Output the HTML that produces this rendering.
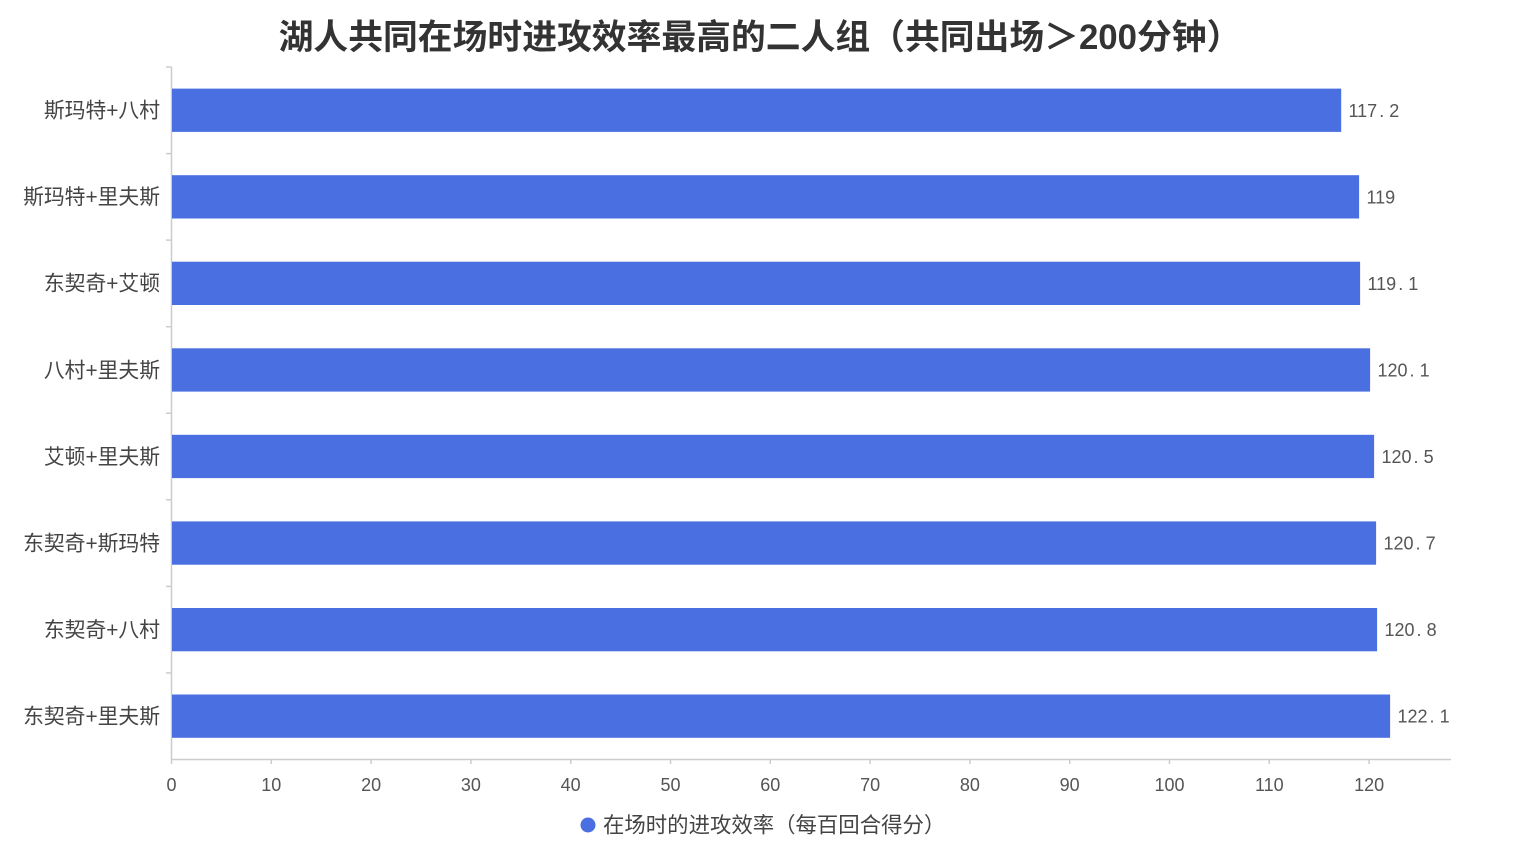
<!DOCTYPE html>
<html>
<head>
<meta charset="utf-8">
<style>
  html, body { margin:0; padding:0; background:#fff; }
  svg { display:block; }
  text { font-family: "Liberation Sans", "Noto Sans CJK SC", sans-serif; }
</style>
</head>
<body>
<svg width="1518" height="855" viewBox="0 0 1518 855" xmlns="http://www.w3.org/2000/svg">
  <rect width="1518" height="855" fill="#fff"/>
  <!-- Title -->
  <text x="760" y="49" text-anchor="middle" font-size="34.8" font-weight="bold" fill="#333">湖人共同在场时进攻效率最高的二人组（共同出场＞200分钟）</text>

  <!-- Axes -->
  <g stroke="#cccccc" stroke-width="1.5" fill="none">
    <line x1="171.5" y1="67" x2="171.5" y2="760"/>
    <line x1="171.5" y1="759.5" x2="1451" y2="759.5"/>
    <!-- y ticks -->
    <line x1="166" y1="67" x2="171.5" y2="67"/>
    <line x1="166" y1="153.6" x2="171.5" y2="153.6"/>
    <line x1="166" y1="240.1" x2="171.5" y2="240.1"/>
    <line x1="166" y1="326.7" x2="171.5" y2="326.7"/>
    <line x1="166" y1="413.2" x2="171.5" y2="413.2"/>
    <line x1="166" y1="499.8" x2="171.5" y2="499.8"/>
    <line x1="166" y1="586.4" x2="171.5" y2="586.4"/>
    <line x1="166" y1="672.9" x2="171.5" y2="672.9"/>
    <!-- x ticks -->
    <line x1="171.5" y1="759.5" x2="171.5" y2="764"/>
    <line x1="271.3" y1="759.5" x2="271.3" y2="764"/>
    <line x1="371.1" y1="759.5" x2="371.1" y2="764"/>
    <line x1="470.9" y1="759.5" x2="470.9" y2="764"/>
    <line x1="570.7" y1="759.5" x2="570.7" y2="764"/>
    <line x1="670.5" y1="759.5" x2="670.5" y2="764"/>
    <line x1="770.3" y1="759.5" x2="770.3" y2="764"/>
    <line x1="870.1" y1="759.5" x2="870.1" y2="764"/>
    <line x1="969.9" y1="759.5" x2="969.9" y2="764"/>
    <line x1="1069.7" y1="759.5" x2="1069.7" y2="764"/>
    <line x1="1169.5" y1="759.5" x2="1169.5" y2="764"/>
    <line x1="1269.3" y1="759.5" x2="1269.3" y2="764"/>
    <line x1="1369.1" y1="759.5" x2="1369.1" y2="764"/>
  </g>

  <!-- Bars -->
  <g fill="#4a6fe0">
    <rect x="172" y="88.6" width="1169.2" height="43.3"/>
    <rect x="172" y="175.2" width="1187.1" height="43.3"/>
    <rect x="172" y="261.7" width="1188.1" height="43.3"/>
    <rect x="172" y="348.3" width="1198.1" height="43.3"/>
    <rect x="172" y="434.8" width="1202.1" height="43.3"/>
    <rect x="172" y="521.4" width="1204.1" height="43.3"/>
    <rect x="172" y="608.0" width="1205.1" height="43.3"/>
    <rect x="172" y="694.5" width="1218.1" height="43.3"/>
  </g>

  <!-- Y labels -->
  <g font-size="20.8" fill="#444" text-anchor="end">
    <text x="160" y="117.6">斯玛特+八村</text>
    <text x="160" y="204.1">斯玛特+里夫斯</text>
    <text x="160" y="290.7">东契奇+艾顿</text>
    <text x="160" y="377.3">八村+里夫斯</text>
    <text x="160" y="463.8">艾顿+里夫斯</text>
    <text x="160" y="550.4">东契奇+斯玛特</text>
    <text x="160" y="636.9">东契奇+八村</text>
    <text x="160" y="723.5">东契奇+里夫斯</text>
  </g>

  <!-- Value labels -->
  <g font-size="18" fill="#555">
    <text x="1348.5" y="116.8">117<tspan dx="2">.</tspan><tspan dx="5">2</tspan></text>
    <text x="1366.5" y="203.3">119</text>
    <text x="1367.5" y="289.9">119<tspan dx="2">.</tspan><tspan dx="5">1</tspan></text>
    <text x="1377.5" y="376.5">120<tspan dx="2">.</tspan><tspan dx="5">1</tspan></text>
    <text x="1381.5" y="463">120<tspan dx="2">.</tspan><tspan dx="5">5</tspan></text>
    <text x="1383.5" y="549.6">120<tspan dx="2">.</tspan><tspan dx="5">7</tspan></text>
    <text x="1384.5" y="636.1">120<tspan dx="2">.</tspan><tspan dx="5">8</tspan></text>
    <text x="1397.5" y="722.7">122<tspan dx="2">.</tspan><tspan dx="5">1</tspan></text>
  </g>

  <!-- X tick labels -->
  <g font-size="18" fill="#555" text-anchor="middle">
    <text x="171.5" y="791">0</text>
    <text x="271.3" y="791">10</text>
    <text x="371.1" y="791">20</text>
    <text x="470.9" y="791">30</text>
    <text x="570.7" y="791">40</text>
    <text x="670.5" y="791">50</text>
    <text x="770.3" y="791">60</text>
    <text x="870.1" y="791">70</text>
    <text x="969.9" y="791">80</text>
    <text x="1069.7" y="791">90</text>
    <text x="1169.5" y="791">100</text>
    <text x="1269.3" y="791">110</text>
    <text x="1369.1" y="791">120</text>
  </g>

  <!-- Legend -->
  <circle cx="588" cy="825" r="7.5" fill="#4a6fe0"/>
  <text x="603" y="832.5" font-size="21.4" fill="#444">在场时的进攻效率（每百回合得分）</text>
</svg>
</body>
</html>
